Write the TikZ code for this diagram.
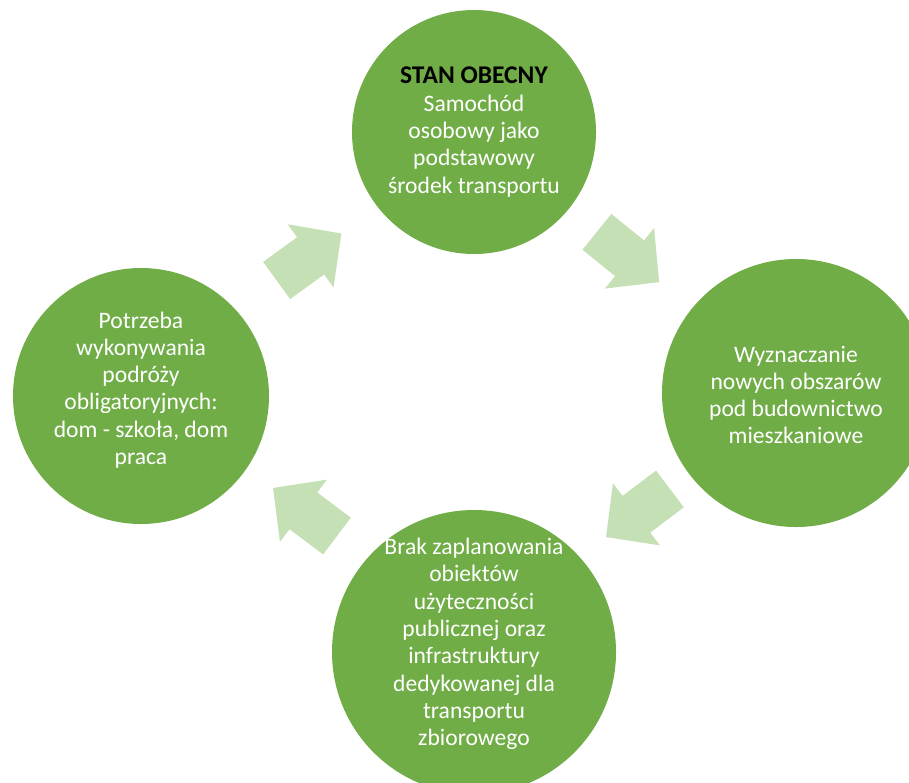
\documentclass[tikz,border=0pt]{standalone}
\usepackage{fontspec}
\setmainfont{Carlito}
\definecolor{stagegreen}{HTML}{70AD47}
\definecolor{flowgreen}{HTML}{C5E0B4}
\tikzset{
  stage/.style={circle, fill=stagegreen, inner sep=0pt},
  stagetext/.style={text=white, align=center, font=\fontsize{23.6}{27.3}\selectfont},
  flow/.pic={\fill[flowgreen] (-40,-23) -- (2,-23) -- (2,-39) -- (40,0) -- (2,39) -- (2,23) -- (-40,23) -- cycle;}
}
\begin{document}
\begin{tikzpicture}[x=1pt,y=-1pt]
\useasboundingbox (0,0) rectangle (909,782);
\clip (0,0) rectangle (909,782);
\node[stage, minimum size=244pt] (stan) at (474,132) {};
\node[stage, minimum size=268pt] (wyznaczanie) at (796,393) {};
\node[stage, minimum size=284pt] (brak) at (474,652) {};
\node[stage, minimum size=256pt] (potrzeba) at (141,396) {};
\node[stagetext] at (stan) {\textcolor{black}{\fontsize{25.5}{27.3}\selectfont\textbf{STAN OBECNY}}\\Samochód\\osobowy jako\\podstawowy\\środek transportu};
\node[stagetext] at ([yshift=-2pt]wyznaczanie) {Wyznaczanie\\nowych obszarów\\pod budownictwo\\mieszkaniowe};
\node[stagetext] at ([yshift=8pt]brak) {Brak zaplanowania\\obiektów\\użyteczności\\publicznej oraz\\infrastruktury\\dedykowanej dla\\transportu\\zbiorowego};
\node[stagetext] at ([yshift=6pt]potrzeba) {Potrzeba\\wykonywania\\podróży\\obligatoryjnych:\\dom - szkoła, dom\\praca};
\pic[rotate=36] at (309,257) {flow};
\pic[rotate=-39] at (628,257) {flow};
\pic[rotate=217] at (638,513) {flow};
\pic[rotate=143] at (305,512) {flow};
\end{tikzpicture}
\end{document}
